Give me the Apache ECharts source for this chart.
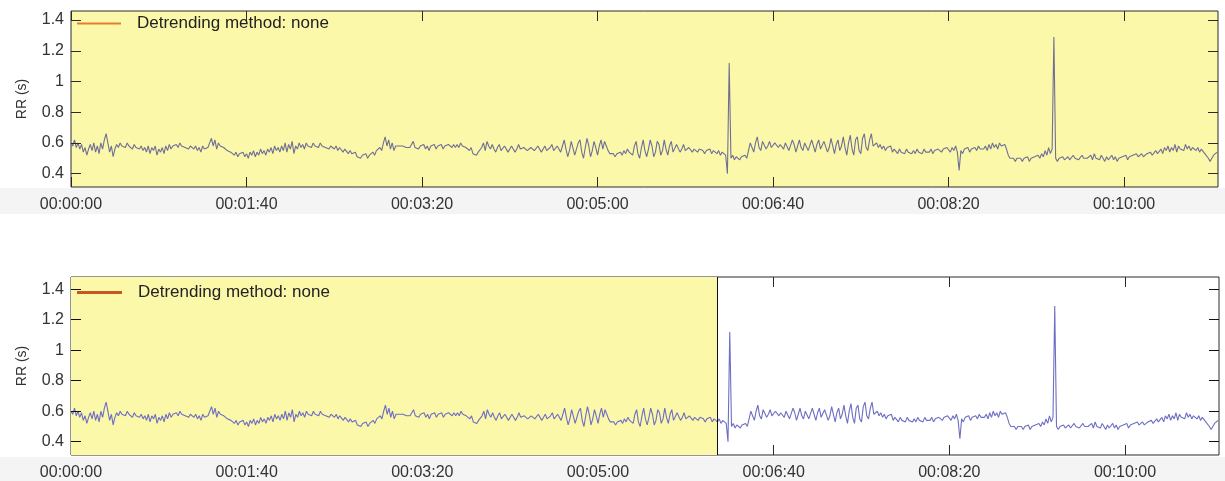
<!DOCTYPE html>
<html>
<head>
<meta charset="utf-8">
<script src="https://cdn.jsdelivr.net/npm/echarts@6/dist/echarts.min.js"></script>
<style>
html,body{margin:0;padding:0;background:#ffffff;}
#chart{width:1225px;height:481px;}
</style>
</head>
<body>
<div id="chart"></div>
<script>
// ---------- data ----------
const legendLabel = 'Detrending method: none';
const yAxisTitle = 'RR (s)';
const sampleStep = 1;            // seconds between samples
const timeMax = 653.5;           // end of recording (s)
const splitTime = 368;           // selection boundary in lower panel (s)
const xTickValues = [0, 100, 200, 300, 400, 500, 600];
const yTickValues = [0.4, 0.6, 0.8, 1.0, 1.2, 1.4];

// RR interval (s), one value per second, t = 0 .. 653
const rrValues = [
  0.60,0.58,0.62,0.57,0.60,0.56,0.59,0.54,0.57,0.52,0.56,0.59,0.55,0.60,0.54,0.58,0.53,0.60,0.56,0.62,
  0.66,0.60,0.54,0.58,0.51,0.56,0.59,0.57,0.60,0.58,0.59,0.57,0.60,0.58,0.59,0.56,0.59,0.57,0.58,0.56,
  0.58,0.55,0.57,0.54,0.58,0.53,0.57,0.55,0.58,0.52,0.56,0.54,0.57,0.53,0.58,0.55,0.59,0.56,0.58,0.57,
  0.59,0.57,0.60,0.58,0.59,0.57,0.58,0.56,0.58,0.57,0.56,0.58,0.55,0.57,0.54,0.58,0.56,0.55,0.57,0.60,
  0.63,0.58,0.62,0.56,0.60,0.58,0.59,0.57,0.58,0.55,0.56,0.54,0.55,0.52,0.54,0.51,0.53,0.52,0.54,0.51,
  0.53,0.50,0.54,0.52,0.55,0.51,0.54,0.52,0.56,0.53,0.55,0.52,0.56,0.54,0.57,0.53,0.58,0.55,0.57,0.54,
  0.58,0.55,0.60,0.54,0.59,0.56,0.61,0.53,0.58,0.56,0.60,0.57,0.59,0.56,0.60,0.58,0.59,0.57,0.60,0.58,
  0.59,0.57,0.60,0.58,0.59,0.57,0.58,0.56,0.58,0.57,0.56,0.58,0.55,0.57,0.56,0.54,0.56,0.55,0.53,0.55,
  0.53,0.52,0.54,0.51,0.52,0.50,0.52,0.51,0.53,0.50,0.52,0.51,0.54,0.52,0.55,0.54,0.57,0.55,0.60,0.64,
  0.58,0.62,0.56,0.60,0.55,0.58,0.57,0.58,0.57,0.58,0.58,0.57,0.58,0.57,0.56,0.61,0.57,0.58,0.56,0.58,
  0.57,0.59,0.56,0.58,0.55,0.58,0.57,0.59,0.56,0.58,0.57,0.59,0.56,0.58,0.57,0.59,0.58,0.57,0.59,0.57,
  0.59,0.57,0.60,0.58,0.59,0.57,0.58,0.55,0.57,0.53,0.54,0.52,0.54,0.53,0.57,0.60,0.55,0.61,0.58,0.56,
  0.59,0.56,0.54,0.57,0.59,0.55,0.54,0.58,0.58,0.54,0.55,0.58,0.57,0.54,0.56,0.59,0.56,0.55,0.57,0.58,
  0.55,0.54,0.57,0.58,0.55,0.54,0.58,0.57,0.54,0.56,0.58,0.55,0.54,0.57,0.59,0.55,0.54,0.58,0.57,0.54,
  0.58,0.62,0.56,0.51,0.55,0.61,0.60,0.52,0.53,0.60,0.62,0.54,0.50,0.57,0.63,0.58,0.51,0.55,0.61,0.57,
  0.52,0.58,0.62,0.56,0.61,0.58,0.55,0.53,0.52,0.53,0.51,0.53,0.52,0.54,0.52,0.55,0.53,0.56,0.54,0.55,
  0.52,0.58,0.61,0.53,0.50,0.57,0.62,0.55,0.51,0.56,0.62,0.58,0.51,0.54,0.61,0.59,0.52,0.55,0.62,0.56,
  0.52,0.58,0.61,0.54,0.53,0.59,0.58,0.54,0.56,0.59,0.55,0.54,0.57,0.56,0.54,0.56,0.55,0.54,0.56,0.55,
  0.55,0.53,0.55,0.54,0.56,0.53,0.55,0.54,0.53,0.55,0.52,0.54,0.53,0.52,0.40,1.12,0.50,0.52,0.49,0.51,
  0.50,0.49,0.51,0.50,0.52,0.50,0.55,0.60,0.57,0.54,0.60,0.64,0.57,0.55,0.61,0.62,0.56,0.58,0.61,0.57,
  0.56,0.60,0.61,0.57,0.59,0.58,0.56,0.60,0.61,0.55,0.56,0.62,0.59,0.54,0.58,0.62,0.57,0.55,0.60,0.61,
  0.55,0.56,0.62,0.58,0.54,0.59,0.62,0.56,0.55,0.61,0.60,0.54,0.57,0.63,0.58,0.53,0.59,0.62,0.55,0.58,
  0.64,0.57,0.52,0.60,0.65,0.56,0.52,0.62,0.64,0.55,0.53,0.63,0.66,0.57,0.55,0.62,0.66,0.58,0.57,0.60,
  0.57,0.59,0.56,0.58,0.55,0.57,0.56,0.58,0.54,0.56,0.55,0.53,0.56,0.54,0.55,0.53,0.56,0.54,0.55,0.53,
  0.55,0.53,0.56,0.54,0.55,0.53,0.56,0.54,0.55,0.54,0.56,0.53,0.55,0.54,0.56,0.55,0.54,0.56,0.55,0.57,
  0.56,0.54,0.57,0.55,0.58,0.54,0.42,0.55,0.53,0.56,0.55,0.57,0.54,0.56,0.55,0.57,0.55,0.58,0.56,0.57,
  0.56,0.58,0.55,0.59,0.56,0.60,0.57,0.59,0.56,0.60,0.58,0.57,0.59,0.56,0.52,0.50,0.49,0.50,0.48,0.50,
  0.49,0.50,0.48,0.50,0.49,0.51,0.48,0.50,0.49,0.51,0.50,0.52,0.50,0.53,0.51,0.55,0.52,0.57,0.53,0.56,
  1.29,0.50,0.48,0.50,0.49,0.51,0.49,0.50,0.51,0.49,0.50,0.52,0.50,0.51,0.49,0.50,0.52,0.50,0.51,0.50,
  0.50,0.52,0.49,0.53,0.50,0.51,0.49,0.52,0.50,0.48,0.51,0.49,0.50,0.52,0.49,0.51,0.48,0.50,0.49,0.51,
  0.50,0.52,0.49,0.51,0.50,0.52,0.51,0.53,0.51,0.52,0.53,0.51,0.52,0.53,0.52,0.54,0.52,0.53,0.55,0.53,
  0.54,0.56,0.53,0.57,0.55,0.58,0.54,0.57,0.55,0.59,0.54,0.58,0.56,0.57,0.55,0.59,0.56,0.58,0.55,0.57,
  0.58,0.55,0.57,0.54,0.56,0.55,0.53,0.52,0.50,0.48,0.50,0.52,0.53,0.54
];

// ---------- styling ----------
const FONT = '"Liberation Sans", Arial, sans-serif';
const YELLOW = '#fcf8aa';
const BORDER = '#2a2a2a';
const TEXT = '#333333';
const TICK_SEC = 5.7;   // inner tick length on the y sides, expressed in seconds (~10 px)

function hms(sec) {
  const s = Math.round(sec);
  const h = Math.floor(s / 3600), m = Math.floor((s % 3600) / 60), r = s % 60;
  return [h, m, r].map(v => String(v).padStart(2, '0')).join(':');
}

const rrData = rrValues.map((v, i) => [i * sampleStep, v]);

// mirrored inner ticks on left and right frame sides, placed through the series' own scales
function sideTicks() {
  const out = [];
  yTickValues.forEach(v => {
    out.push([{ coord: [0, v] }, { coord: [TICK_SEC, v] }]);
    out.push([{ coord: [timeMax - TICK_SEC, v] }, { coord: [timeMax, v] }]);
  });
  return out;
}

function xAxes(gridIndex) {
  return [
    { type: 'value', gridIndex, position: 'bottom', min: 0, max: timeMax,
      axisLine: { show: false, onZero: false },
      axisTick: { show: true, inside: true, length: 10, customValues: xTickValues, lineStyle: { color: BORDER, width: 1 } },
      splitLine: { show: false },
      axisLabel: { customValues: xTickValues, formatter: hms, fontSize: 16, color: TEXT, fontFamily: FONT, margin: 10 } },
    { type: 'value', gridIndex, position: 'top', min: 0, max: timeMax,
      axisLine: { show: false, onZero: false },
      axisTick: { show: true, inside: true, length: 10, customValues: xTickValues, lineStyle: { color: BORDER, width: 1 } },
      splitLine: { show: false }, axisLabel: { show: false } }
  ];
}
function yAxes(gridIndex, yMin, yMax) {
  return [
    { type: 'value', gridIndex, position: 'left', min: yMin, max: yMax,
      name: yAxisTitle, nameLocation: 'middle', nameGap: 42,
      nameTextStyle: { fontSize: 14, color: TEXT, fontFamily: FONT },
      axisLine: { show: false, onZero: false },
      axisTick: { show: true, inside: true, length: 10, customValues: yTickValues, lineStyle: { color: BORDER, width: 1 } },
      splitLine: { show: false },
      axisLabel: { customValues: yTickValues, fontSize: 16, color: TEXT, fontFamily: FONT, margin: 7 } },
    { type: 'value', gridIndex, position: 'right', min: yMin, max: yMax,
      axisLine: { show: false, onZero: false },
      axisTick: { show: true, inside: true, length: 10, customValues: yTickValues, lineStyle: { color: BORDER, width: 1 } },
      splitLine: { show: false },
      axisLabel: { show: false, customValues: yTickValues } }
  ];
}

const tickMarkStyle = { color: BORDER, width: 1, type: 'solid' };

const option = {
  animation: false,
  backgroundColor: '#ffffff',
  graphic: [
    { type: 'rect', z: -10, shape: { x: 0, y: 188, width: 1225, height: 26 }, style: { fill: '#f4f4f4' } },
    { type: 'rect', z: -10, shape: { x: 0, y: 457, width: 1225, height: 24 }, style: { fill: '#f4f4f4' } }
  ],
  grid: [
    { left: 71, top: 11, width: 1147, height: 176, show: true, backgroundColor: YELLOW, borderColor: BORDER, borderWidth: 1 },
    { left: 71, top: 277, width: 1148, height: 179, show: true, backgroundColor: '#ffffff', borderColor: BORDER, borderWidth: 1 }
  ],
  xAxis: [...xAxes(0), ...xAxes(1)],
  yAxis: [...yAxes(0, 0.313, 1.459), ...yAxes(1, 0.313, 1.480)],
  legend: [
    { left: 72, top: 10, selectedMode: false, icon: 'rect', itemWidth: 44, itemHeight: 2,
      textStyle: { fontSize: 17, color: '#222', fontFamily: FONT, padding: [0, 0, 0, 11] },
      data: [{ name: legendLabel, itemStyle: { color: '#e0802e' } }] },
    { left: 72, top: 279, selectedMode: false, icon: 'rect', itemWidth: 45, itemHeight: 3,
      textStyle: { fontSize: 17, color: '#222', fontFamily: FONT, padding: [0, 0, 0, 11] },
      data: [{ name: legendLabel, itemStyle: { color: '#c8561f' } }] }
  ],
  series: [
    { type: 'line', name: legendLabel, xAxisIndex: 0, yAxisIndex: 0, data: [], color: '#e0802e' },
    { type: 'line', name: 'rrTop', xAxisIndex: 0, yAxisIndex: 0, data: rrData,
      showSymbol: false, symbol: 'none', silent: true,
      lineStyle: { color: '#6f6f96', width: 1.1 },
      markLine: { silent: true, symbol: ['none', 'none'], label: { show: false },
        lineStyle: tickMarkStyle, data: sideTicks() } },
    { type: 'line', name: 'rrBottom', xAxisIndex: 2, yAxisIndex: 2, data: rrData,
      showSymbol: false, symbol: 'none', silent: true,
      lineStyle: { color: '#6e6ec4', width: 1.1 },
      markArea: { silent: true, z: 1, itemStyle: { color: YELLOW }, data: [[{ xAxis: 0 }, { xAxis: splitTime }]] },
      markLine: { silent: true, symbol: ['none', 'none'], label: { show: false },
        lineStyle: { color: '#111', width: 1, type: 'solid' },
        data: [{ xAxis: splitTime, lineStyle: { color: '#111' } }, ...sideTicks()] } }
  ]
};

const chart = echarts.init(document.getElementById('chart'), null, { renderer: 'canvas' });
chart.setOption(option);
</script>
</body>
</html>
